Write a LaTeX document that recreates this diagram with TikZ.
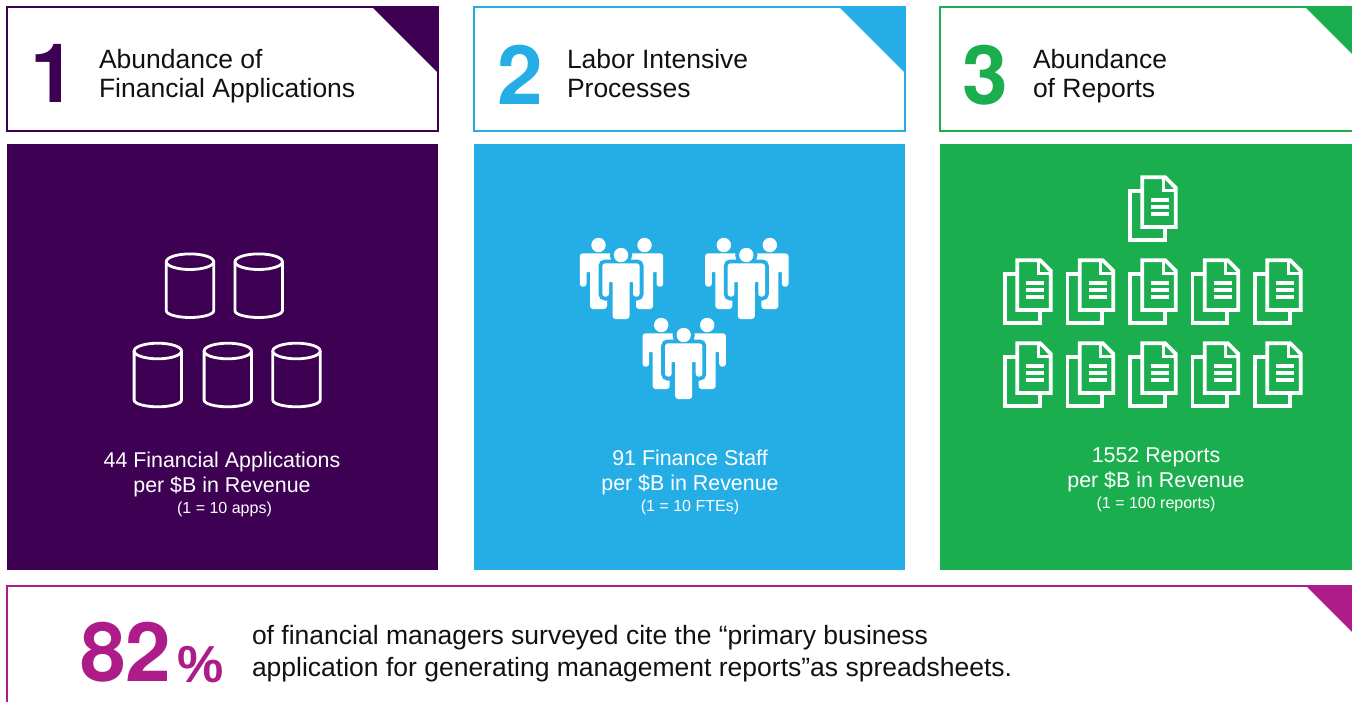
\documentclass[tikz,border=0pt]{standalone}
\usepackage{fontspec}
\setmainfont{Liberation Sans}
\newfontfamily\numfont{TeX Gyre Heros}
\definecolor{cpurple}{HTML}{3D0052}
\definecolor{cblue}{HTML}{25AEE6}
\definecolor{cgreen}{HTML}{1BAE4E}
\definecolor{cmagenta}{HTML}{AE1C8A}
\definecolor{cink}{HTML}{111111}
\newcommand{\fsz}[2]{\fontsize{#1}{#2}\selectfont}
\tikzset{
  x=1pt,y=-1pt,
  txt/.style={inner sep=0pt,outer sep=0pt,anchor=base west,text=cink},
  numeral/.style={inner sep=0pt,outer sep=0pt,anchor=base west,font=\numfont\fsz{82}{82}\bfseries},
  headtext/.style={txt,font=\fsz{26.5}{29}},
  captext/.style={inner sep=0pt,outer sep=0pt,anchor=base,text=white,font=\fsz{21.4}{25}},
  capsmall/.style={inner sep=0pt,outer sep=0pt,anchor=base,text=white,font=\fsz{16}{18}},
  framed/.style={line width=1.5pt},
  cyl/.pic={
    \draw[white,line width=2.8pt] (0,0) ellipse [x radius=23.7,y radius=7.8];
    \draw[white,line width=2.8pt,line join=round] (-23.7,0) -- (-23.7,49)
      .. controls (-23.7,53) and (-12,55.8) .. (0,55.8)
      .. controls (12,55.8) and (23.7,53) .. (23.7,49) -- (23.7,0);
  },
  docicon/.pic={
    \draw[white,line width=3.8pt,miter limit=10] (0,13.7) -- (-12.3,13.7) -- (-12.3,62.4) -- (22.4,62.4) -- (22.4,49.7);
    \draw[white,line width=3.8pt,line join=miter] (0,0) -- (23,0) -- (33.4,10.5) -- (33.4,49.7) -- (0,49.7) -- cycle;
    \draw[white,line width=2.8pt] (21,0) -- (21,13.4) -- (33.4,13.4);
    \foreach \ly in {20.7,27.7,34.7}{
      \fill[white] (8.7,\ly) rectangle ++(18,3.7);
    }
  },
  staffbody/.pic={
    \path[pic actions,rounded corners=3pt] (0,8.3) -- (18.7,8.3) -- (18.7,41.7) -- (12,41.7)
      [sharp corners] -- (12,27) -- (8.5,27) [rounded corners=3pt] -- (8.5,64) -- (-8.5,64)
      [sharp corners] -- (-8.5,27) -- (-12,27) [rounded corners=3pt] -- (-12,41.7) -- (-18.7,41.7) -- (-18.7,8.3) -- cycle;
    \path[pic actions] (0,0) circle [radius=7.2];
  },
  staffgroup/.pic={
    \pic[fill=white] at (-22.5,-10) {staffbody};
    \pic[fill=white] at (23.5,-10) {staffbody};
    \pic[fill=white,draw=cblue,line width=7.6pt] at (0,0) {staffbody};
    \pic[fill=white] at (0,0) {staffbody};
  },
}
\begin{document}
\begin{tikzpicture}
\useasboundingbox (0,0) rectangle (1352,702);
% header frames
\draw[cpurple,framed] (7,7) rectangle (438,131);
\fill[cpurple] (372,7) -- (438,7) -- (438,73) -- cycle;
\draw[cblue,framed] (474,7) rectangle (905,131);
\fill[cblue] (839,7) -- (905,7) -- (905,73) -- cycle;
\draw[cgreen,framed] (1352,7) -- (940,7) -- (940,131) -- (1352,131);
\fill[cgreen] (1305,7) -- (1352,7) -- (1352,54) -- cycle;
% panels
\fill[cpurple] (7,144) rectangle (438,570);
\fill[cblue] (474,144) rectangle (905,570);
\fill[cgreen] (940,144) rectangle (1352,570);
% numerals and titles
\node[numeral,text=cpurple] (numa) at (30,102) {1};
\node[numeral,text=cblue] (numb) at (497,104) {2};
\node[numeral,text=cgreen] (numc) at (962.5,104) {3};
\node[headtext] (titlea1) at (99,68) {Abundance of};
\node[headtext] (titlea2) at (99,97) {Financial Applications};
\node[headtext] (titleb1) at (567,68) {Labor Intensive};
\node[headtext] (titleb2) at (567,97) {Processes};
\node[headtext] (titlec1) at (1033,68) {Abundance};
\node[headtext] (titlec2) at (1033,97) {of Reports};
% cylinders
\foreach \cx/\cy in {190/261.7,258.7/261.7,157.8/351,227.8/351,296.5/351}{
  \pic at (\cx,\cy) {cyl};
}
% staff
\foreach \cx/\cy in {621/255,746.3/255,683.7/335}{
  \pic at (\cx,\cy) {staffgroup};
}
% documents
\pic at (1142.3,177.3) {docicon};
\foreach \cy in {260.3,343.3}{
  \foreach \cx in {1017.3,1079.8,1142.3,1204.8,1267.3}{
    \pic at (\cx,\cy) {docicon};
  }
}
% captions
\node[captext] (capa1) at (222,467) {44 Financial Applications};
\node[captext] (capa2) at (222,492) {per \$B in Revenue};
\node[capsmall] (capa3) at (224.5,513) {(1 = 10 apps)};
\node[captext] (capb1) at (690,465) {91 Finance Staff};
\node[captext] (capb2) at (690,490) {per \$B in Revenue};
\node[capsmall] (capb3) at (690,511) {(1 = 10 FTEs)};
\node[captext] (capc1) at (1156,462) {1552 Reports};
\node[captext] (capc2) at (1156,487) {per \$B in Revenue};
\node[capsmall] (capc3) at (1156,508) {(1 = 100 reports)};
% bottom band
\draw[cmagenta,framed] (1352,586) -- (7,586) -- (7,702);
\fill[cmagenta] (1306,586) -- (1352,586) -- (1352,632) -- cycle;
\node[inner sep=0pt,anchor=base west,text=cmagenta,font=\numfont\fsz{82}{82}\bfseries] (bigfig) at (80,681) {82};
\node[inner sep=0pt,anchor=base west,text=cmagenta,font=\fsz{52}{52}\bfseries] (bigpct) at (177,682) {\%};
\node[txt,font=\fsz{26.5}{32}] (sum1) at (252,644) {of financial managers surveyed cite the “primary business};
\node[txt,font=\fsz{26.5}{32}] (sum2) at (252,676) {application for generating management reports”as spreadsheets.};
\end{tikzpicture}
\end{document}
